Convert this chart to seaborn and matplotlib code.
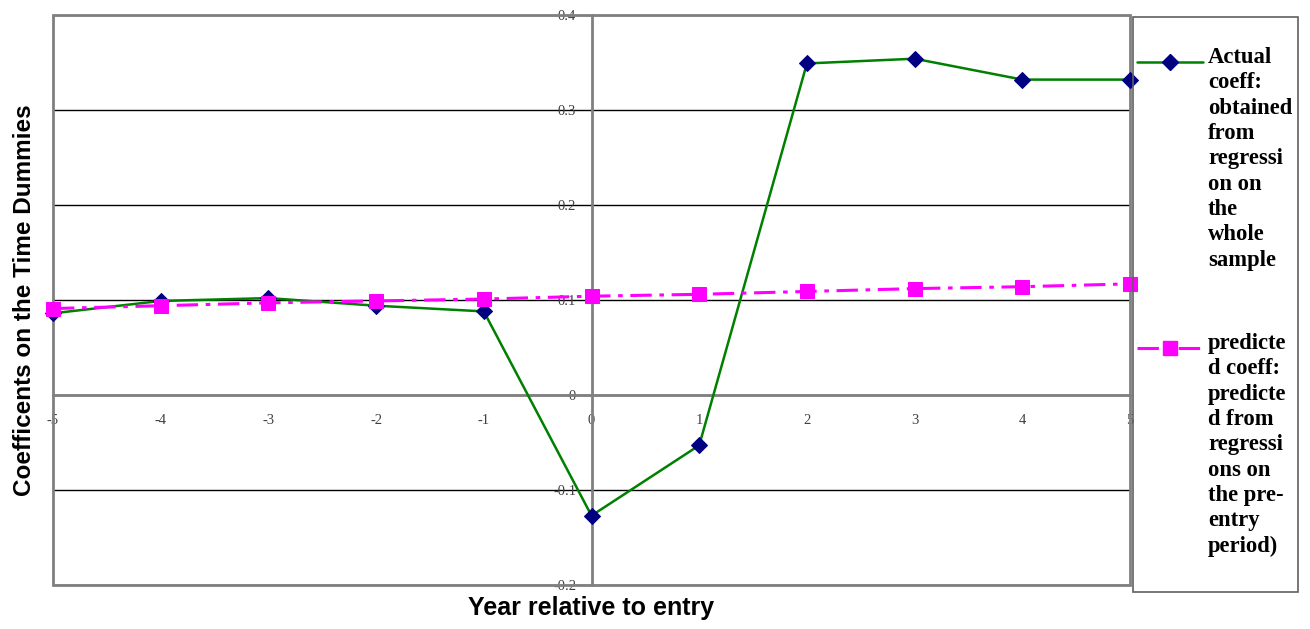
import pandas as pd
import numpy as np
import matplotlib.pyplot as plt
import seaborn as sns
from matplotlib.patches import Rectangle
from matplotlib.lines import Line2D

# -- data
years = [-5, -4, -3, -2, -1, 0, 1, 2, 3, 4, 5]
actual_coeff = [0.086, 0.099, 0.102, 0.094, 0.088, -0.127, -0.053, 0.349, 0.354, 0.332, 0.332]
predicted_coeff = [0.091, 0.094, 0.097, 0.099, 0.101, 0.104, 0.106, 0.109, 0.112, 0.114, 0.117]
y_ticks = [-0.2, -0.1, 0, 0.1, 0.2, 0.3, 0.4]
y_tick_labels = ["-0.2", "-0.1", "0", "0.1", "0.2", "0.3", "0.4"]
actual_label = "Actual\ncoeff:\nobtained\nfrom\nregressi\non on\nthe\nwhole\nsample"
predicted_label = "predicte\nd coeff:\npredicte\nd from\nregressi\nons on\nthe pre-\nentry\nperiod)"

df = pd.DataFrame({"year": years, "actual": actual_coeff, "predicted": predicted_coeff})

sns.set_theme(style="white")
plt.rcParams["font.family"] = ["Liberation Serif", "DejaVu Serif"]

W, H = 1310, 629
fig = plt.figure(figsize=(W / 100, H / 100), dpi=100)
ax = fig.add_axes([53 / W, 1 - 585 / H, 1077 / W, 570 / H])

green = "#008000"
navy = "#000080"
pink = "#FF00FF"
dashdot = (0, (7, 2.5, 1.5, 2.5))

sns.lineplot(data=df, x="year", y="actual", ax=ax, color=green, lw=1.8,
             marker="D", markersize=8, markerfacecolor=navy, markeredgecolor=navy,
             clip_on=False, zorder=3)
sns.lineplot(data=df, x="year", y="predicted", ax=ax, color=pink, lw=2.2,
             linestyle=dashdot,
             marker="s", markersize=10, markerfacecolor=pink, markeredgecolor=pink,
             clip_on=False, zorder=4)

ax.set_xlim(-5, 5)
ax.set_ylim(-0.2, 0.4)
ax.set_xticks(years)
ax.set_xticklabels([str(y) for y in years])
ax.set_yticks(y_ticks)
ax.set_yticklabels(y_tick_labels)

# gridlines
ax.yaxis.grid(True, color="black", lw=1)
ax.xaxis.grid(False)
ax.set_axisbelow(True)

# axes crossing at zero, frame drawn separately
for side in ["top", "right"]:
    ax.spines[side].set_visible(False)
ax.spines["left"].set_position(("data", 0))
ax.spines["bottom"].set_position(("data", 0))
for side in ["left", "bottom"]:
    ax.spines[side].set_color("#808080")
    ax.spines[side].set_linewidth(2)
ax.add_patch(Rectangle((0, 0), 1, 1, transform=ax.transAxes, fill=False,
                       edgecolor="#808080", lw=2, clip_on=False, zorder=2.6))

ax.tick_params(axis="y", direction="out", length=5, width=1, color="#404040",
               pad=6, labelsize=10.5, labelcolor="#404040")
ax.tick_params(axis="x", direction="out", length=4, width=1, color="#404040",
               pad=10, labelsize=10.5, labelcolor="#404040")

ax.set_xlabel("Year relative to entry", family=["Liberation Sans", "DejaVu Sans"],
              fontsize=18, fontweight="bold", color="black")
ax.set_ylabel("Coefficents on the Time Dummies", family=["Liberation Sans", "DejaVu Sans"],
              fontsize=17.5, fontweight="bold", color="black")
ax.xaxis.set_label_coords(0.5, -0.02)
ax.yaxis.set_label_coords(-0.016, 0.5)
ax.xaxis.label.set_va("top")
if ax.get_legend() is not None:
    ax.get_legend().remove()

# -- legend box drawn by hand
fig.patches.append(Rectangle((1133 / W, 1 - 592 / H), 165 / W, 575 / H,
                             transform=fig.transFigure, fill=False,
                             edgecolor="#606060", lw=1.2))
for yc, col, mk, ms, ls, lw, label in [
    (62, green, "D", 8, "-", 1.8, actual_label),
    (348, pink, "s", 10, dashdot, 2.2, predicted_label),
]:
    mcol = navy if mk == "D" else pink
    fig.add_artist(Line2D([1137 / W, 1170 / W, 1203 / W], [1 - yc / H] * 3,
                          transform=fig.transFigure, color=col, lw=lw, linestyle=ls,
                          marker=mk, markevery=[1], markersize=ms,
                          markerfacecolor=mcol, markeredgecolor=mcol))
    fig.text(1208 / W, 1 - (yc - 15) / H, label, ha="left", va="top",
             fontsize=16.3, fontweight="bold", linespacing=1.27, color="black")

plt.savefig("out.png", dpi=100)
